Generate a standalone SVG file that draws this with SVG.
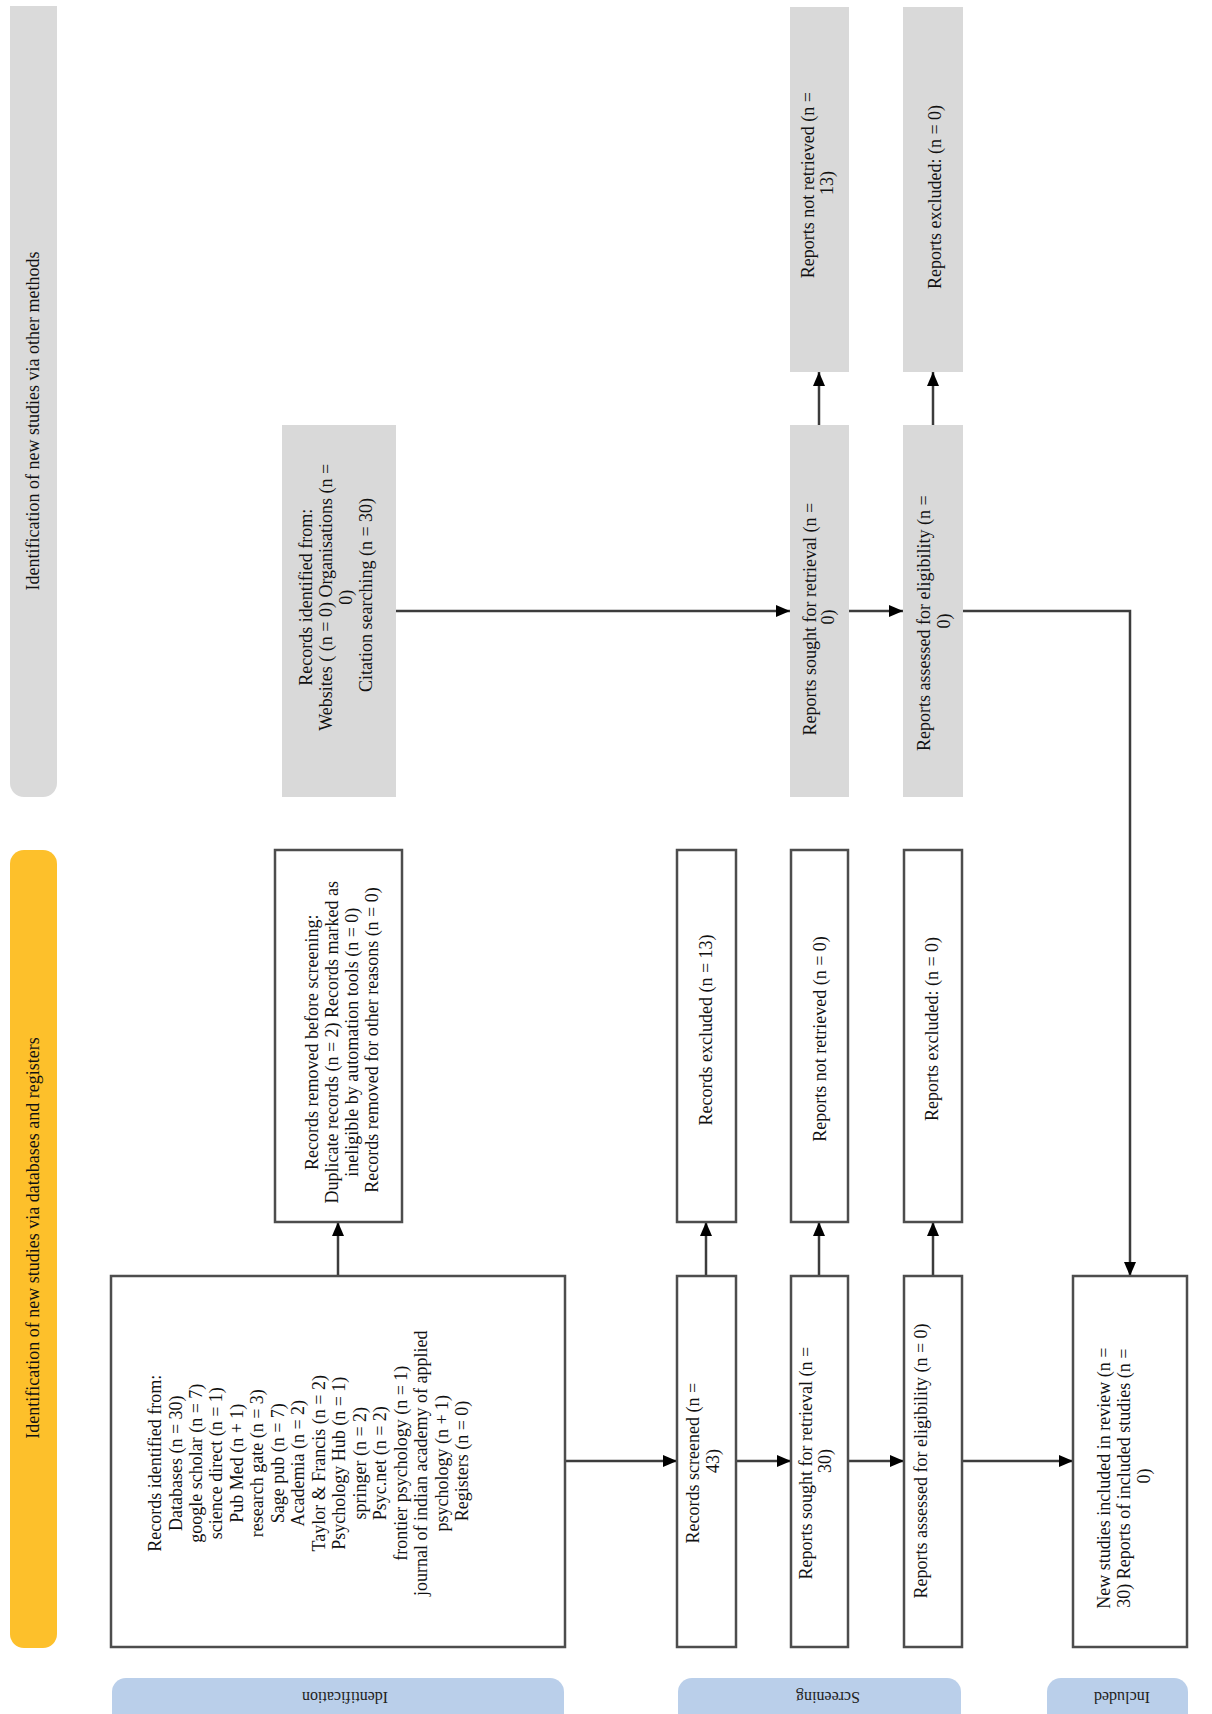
<svg xmlns="http://www.w3.org/2000/svg" width="1212" height="1714" viewBox="0 0 1212 1714">
<style>
.bx{fill:#fff;stroke:#4d4d4d;stroke-width:2.5}
.gb{fill:#d9d9d9}
.t{font-family:"Liberation Serif","Times New Roman",serif;font-size:18px;fill:#111}
.bt{font-family:"Liberation Serif","Times New Roman",serif;font-size:16px;fill:#222}
.c{stroke:#3c3c3c;stroke-width:2.5;fill:none;marker-end:url(#ah)}
</style>
<defs>
<marker id="ah" viewBox="0 0 14 12" refX="14" refY="6" markerWidth="14" markerHeight="12" markerUnits="userSpaceOnUse" orient="auto">
<path d="M0,0 L14,6 L0,12 z" fill="#000"/>
</marker>
</defs>
<rect width="1212" height="1714" fill="#fff"/>

<g id="band-other">
<path d="M10,6 H57 V783 A14,14 0 0 1 43,797 H24 A14,14 0 0 1 10,783 Z" fill="#dadada"/>
<text class="t" text-anchor="middle" transform="translate(39,421) rotate(-90)">Identification of new studies via other methods</text>
</g>
<g id="band-databases">
<rect x="10" y="850" width="47" height="798" rx="14" fill="#fdc02b"/>
<text class="t" text-anchor="middle" transform="translate(39,1238) rotate(-90)">Identification of new studies via databases and registers</text>
</g>

<g id="phase-identification">
<rect x="112" y="1678" width="452" height="70" rx="14" fill="#bacfea"/>
<text class="bt" text-anchor="middle" transform="translate(345,1692) rotate(180)">Identification</text>
</g>
<g id="phase-screening">
<rect x="678" y="1678" width="283" height="70" rx="14" fill="#bacfea"/>
<text class="bt" text-anchor="middle" transform="translate(828,1692) rotate(180)">Screening</text>
</g>
<g id="phase-included">
<rect x="1047" y="1678" width="141" height="70" rx="14" fill="#bacfea"/>
<text class="bt" text-anchor="middle" transform="translate(1122,1692) rotate(180)">Included</text>
</g>

<g id="connectors">
<line class="c" x1="565" y1="1461" x2="677" y2="1461"/>
<line class="c" x1="736" y1="1461" x2="791" y2="1461"/>
<line class="c" x1="848" y1="1461" x2="904" y2="1461"/>
<line class="c" x1="962" y1="1461" x2="1073" y2="1461"/>
<line class="c" x1="338" y1="1276" x2="338" y2="1222"/>
<line class="c" x1="706" y1="1276" x2="706" y2="1222"/>
<line class="c" x1="819" y1="1276" x2="819" y2="1222"/>
<line class="c" x1="933" y1="1276" x2="933" y2="1222"/>
<line class="c" x1="396" y1="611" x2="790" y2="611"/>
<line class="c" x1="849" y1="611" x2="903" y2="611"/>
<line class="c" x1="819" y1="425" x2="819" y2="372"/>
<line class="c" x1="933" y1="425" x2="933" y2="372"/>
<path class="c" d="M963,611 H1130 V1276"/>
</g>

<g id="records-identified-db">
<rect class="bx" x="111" y="1276" width="454" height="371"/>
<text class="t" text-anchor="middle" transform="translate(308.5,1461) rotate(-90)">
<tspan x="0" y="-147.5">Records identified from:</tspan>
<tspan x="0" y="-127">Databases (n = 30)</tspan>
<tspan x="0" y="-106.6">google scholar (n = 7)</tspan>
<tspan x="0" y="-86.1">science direct (n = 1)</tspan>
<tspan x="0" y="-65.6">Pub Med (n + 1)</tspan>
<tspan x="0" y="-45.2">research gate (n = 3)</tspan>
<tspan x="0" y="-24.7">Sage pub (n = 7)</tspan>
<tspan x="0" y="-4.2">Academia (n = 2)</tspan>
<tspan x="0" y="16.3">Taylor &amp; Francis (n = 2)</tspan>
<tspan x="0" y="36.7">Psychology Hub (n = 1)</tspan>
<tspan x="0" y="57.2">springer (n = 2)</tspan>
<tspan x="0" y="77.7">Psyc.net (n = 2)</tspan>
<tspan x="0" y="98.1">frontier psychology (n = 1)</tspan>
<tspan x="0" y="118.6">journal of indian academy of applied</tspan>
<tspan x="0" y="139.1">psychology (n + 1)</tspan>
<tspan x="0" y="159.6">Registers (n = 0)</tspan>
</text>
</g>

<g id="records-removed">
<rect class="bx" x="275" y="850" width="127" height="372"/>
<text class="t" text-anchor="middle" transform="translate(342,1040) rotate(-90)">
<tspan x="0" y="-24">Records removed before screening:</tspan>
<tspan x="0" y="-4">Duplicate records (n = 2) Records marked as</tspan>
<tspan x="0" y="16">ineligible by automation tools (n = 0)</tspan>
<tspan x="0" y="36">Records removed for other reasons (n = 0)</tspan>
</text>
</g>

<g id="records-screened">
<rect class="bx" x="677" y="1276" width="59" height="371"/>
<text class="t" text-anchor="middle" transform="translate(703,1461) rotate(-90)">
<tspan x="0" y="-4">Records screened (n =</tspan>
<tspan x="0" y="16">43)</tspan>
</text>
</g>

<g id="reports-sought-db">
<rect class="bx" x="791" y="1276" width="57" height="371"/>
<text class="t" text-anchor="middle" transform="translate(815.5,1461) rotate(-90)">
<tspan x="0" y="-3.5">Reports sought for retrieval (n =</tspan>
<tspan x="0" y="15.5">30)</tspan>
</text>
</g>

<g id="reports-assessed-db">
<rect class="bx" x="904" y="1276" width="58" height="371"/>
<text class="t" text-anchor="middle" transform="translate(921,1461) rotate(-90)">
<tspan x="0" y="6">Reports assessed for eligibility (n = 0)</tspan>
</text>
</g>

<g id="new-studies-included">
<rect class="bx" x="1073" y="1276" width="114" height="371"/>
<text class="t" text-anchor="middle" transform="translate(1124,1476) rotate(-90)">
<tspan x="0" y="-14">New studies included in review (n =</tspan>
<tspan x="0" y="6">30) Reports of included studies (n =</tspan>
<tspan x="0" y="26">0)</tspan>
</text>
</g>

<g id="records-excluded">
<rect class="bx" x="677" y="850" width="59" height="372"/>
<text class="t" text-anchor="middle" transform="translate(706,1030) rotate(-90)"><tspan x="0" y="6">Records excluded (n = 13)</tspan></text>
</g>

<g id="reports-not-retrieved-db">
<rect class="bx" x="791" y="850" width="57" height="372"/>
<text class="t" text-anchor="middle" transform="translate(820,1039) rotate(-90)"><tspan x="0" y="6">Reports not retrieved (n = 0)</tspan></text>
</g>

<g id="reports-excluded-db">
<rect class="bx" x="904" y="850" width="58" height="372"/>
<text class="t" text-anchor="middle" transform="translate(932,1029) rotate(-90)"><tspan x="0" y="6">Reports excluded: (n = 0)</tspan></text>
</g>

<g id="records-identified-other">
<rect class="gb" x="282" y="425" width="114" height="372"/>
<text class="t" text-anchor="middle" transform="translate(336,595) rotate(-90)">
<tspan x="0" y="-24">Records identified from:</tspan>
<tspan x="0" y="-4">Websites ( (n = 0) Organisations (n =</tspan>
<tspan x="0" y="16">0)</tspan>
<tspan x="0" y="36">Citation searching (n = 30)</tspan>
</text>
</g>

<g id="reports-sought-other">
<rect class="gb" x="790" y="425" width="59" height="372"/>
<text class="t" text-anchor="middle" transform="translate(819,617) rotate(-90)">
<tspan x="0" y="-3">Reports sought for retrieval (n =</tspan>
<tspan x="0" y="15">0)</tspan>
</text>
</g>

<g id="reports-assessed-other">
<rect class="gb" x="903" y="425" width="60" height="372"/>
<text class="t" text-anchor="middle" transform="translate(934,621) rotate(-90)">
<tspan x="0" y="-4">Reports assessed for eligibility (n =</tspan>
<tspan x="0" y="16">0)</tspan>
</text>
</g>

<g id="reports-not-retrieved-other">
<rect class="gb" x="790" y="7" width="59" height="365"/>
<text class="t" text-anchor="middle" transform="translate(817.5,183) rotate(-90)">
<tspan x="0" y="-3.5">Reports not retrieved (n =</tspan>
<tspan x="0" y="15.5">13)</tspan>
</text>
</g>

<g id="reports-excluded-other">
<rect class="gb" x="903" y="7" width="60" height="365"/>
<text class="t" text-anchor="middle" transform="translate(935,197) rotate(-90)"><tspan x="0" y="6">Reports excluded: (n = 0)</tspan></text>
</g>
</svg>
